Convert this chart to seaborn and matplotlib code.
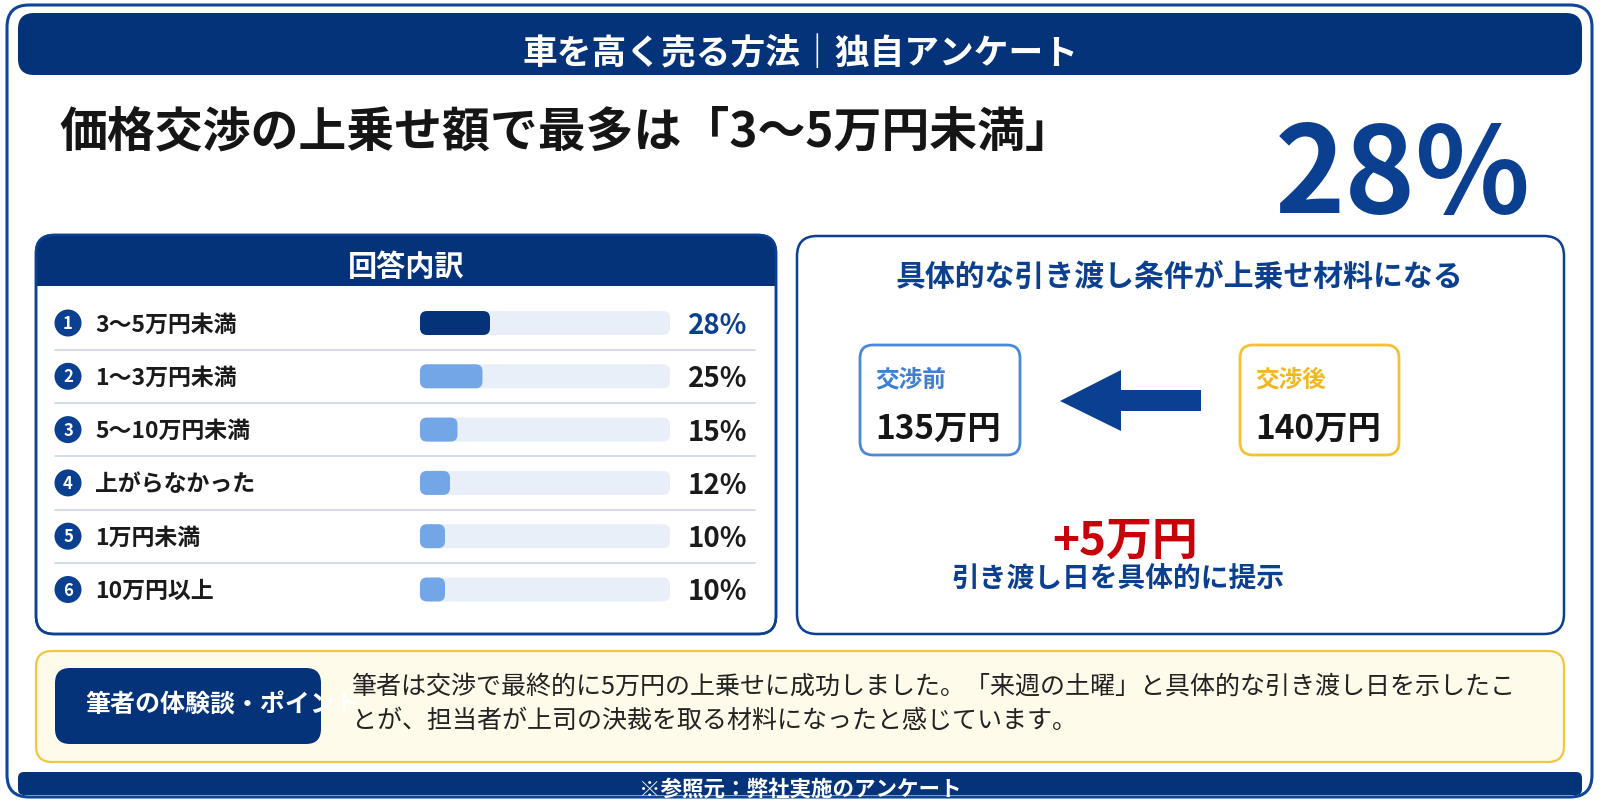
import matplotlib
matplotlib.use("Agg")
import matplotlib.pyplot as plt
from matplotlib.patches import FancyBboxPatch, Rectangle, Circle, Polygon
import seaborn as sns
import pandas as pd

# data
categories = ["3〜5万円未満", "1〜3万円未満", "5〜10万円未満", "上がらなかった", "1万円未満", "10万円以上"]
shares = [28, 25, 15, 12, 10, 10]
price_before = 135
price_after = 140

header_text = "車を高く売る方法｜独自アンケート"
title_text = "価格交渉の上乗せ額で最多は「3〜5万円未満」"
panel_title = "回答内訳"
right_title = "具体的な引き渡し条件が上乗せ材料になる"
condition_text = "引き渡し日を具体的に提示"
badge_text = "筆者の体験談・ポイント"
story_lines = ["筆者は交渉で最終的に5万円の上乗せに成功しました。「来週の土曜」と具体的な引き渡し日を示したこ",
               "とが、担当者が上司の決裁を取る材料になったと感じています。"]
source_text = "※参照元：弊社実施のアンケート"

NAVY = "#04337A"
BLUE = "#0B3F90"
FRAME = "#0D4699"
LIGHT = "#72A6E6"
TRACK = "#E9EFF9"

sns.set_theme(style="white")
plt.rcParams['font.family'] = ['Noto Sans CJK JP', 'DejaVu Sans']

fig = plt.figure(figsize=(16, 8), dpi=100)
ax = fig.add_axes([0, 0, 1, 1])
ax.set_xlim(0, 1600)
ax.set_ylim(800, 0)
ax.axis("off")


def rbox(x0, y0, x1, y1, r, **kw):
    p = FancyBboxPatch((x0, y0), x1 - x0, y1 - y0,
                       boxstyle=f"round,pad=0,rounding_size={r}", **kw)
    ax.add_patch(p)
    return p


# outer frame, header and footer
rbox(7, 5, 1592, 797, 22, fc="white", ec=FRAME, lw=2.2)
rbox(18, 13, 1582, 75, 16, fc=NAVY, ec="none")
ax.text(800, 53, header_text, color="white", fontsize=25, fontweight="bold",
        ha="center", va="center")
rbox(18, 772, 1582, 795, 6, fc=NAVY, ec="none")
ax.text(800, 789, source_text, color="white", fontsize=15.5, fontweight="bold",
        ha="center", va="center")

# headline
ax.text(59, 132, title_text, color="#151515", fontsize=34.5, fontweight="bold",
        ha="left", va="center")
ax.text(1403, 213, f"{shares[0]}%", color=BLUE, fontsize=86, fontweight="bold",
        ha="center", va="baseline")

# left panel
lp = rbox(36, 235, 776, 634, 18, fc="white", ec=BLUE, lw=1.8, zorder=1)
hdr = Rectangle((36, 235), 740, 51, fc=NAVY, ec="none", zorder=2)
ax.add_patch(hdr)
hdr.set_clip_path(lp)
rbox(36, 235, 776, 634, 18, fc="none", ec=BLUE, lw=1.8, zorder=3)
ax.text(406, 267, panel_title, color="white", fontsize=21, fontweight="bold",
        ha="center", va="center", zorder=4)

row0, step = 323, 53.3
for i, (cat, val) in enumerate(zip(categories, shares)):
    yc = row0 + i * step
    ax.add_patch(Circle((68, yc), 13.5, fc=BLUE, ec="none", zorder=3))
    ax.text(68, yc + 1, str(i + 1), color="white", fontsize=12, fontweight="bold",
            ha="center", va="center", zorder=4)
    ax.text(95, yc + 2, cat, color="#1A1A1A", fontsize=16.5, fontweight="bold",
            ha="left", va="center", zorder=4)
    ax.text(747, yc + 3, f"{val}%", color=BLUE if i == 0 else "#1A1A1A",
            fontsize=20, fontweight="bold", ha="right", va="center", zorder=4)
    if i < len(categories) - 1:
        ax.plot([55, 755], [yc + step / 2, yc + step / 2], color="#C9D5E6",
                lw=1.2, zorder=3)

# bars in their own axes
y_top = row0 - step / 2
y_bot = row0 + (len(categories) - 1) * step + step / 2
ax_bar = fig.add_axes([420 / 1600, 1 - y_bot / 800, 250 / 1600, (y_bot - y_top) / 800])
df = pd.DataFrame({"category": categories, "share": shares, "full": [100] * len(shares)})
sns.barplot(data=df, x="full", y="category", orient="h", color=TRACK,
            width=0.45, saturation=1, ax=ax_bar)
sns.barplot(data=df, x="share", y="category", hue="category", orient="h",
            palette=[NAVY if i == 0 else LIGHT for i in range(len(categories))],
            width=0.45, saturation=1, legend=False, ax=ax_bar)
ax_bar.set_xlim(0, 100)
ax_bar.set_ylim(len(categories) - 0.5, -0.5)
ax_bar.axis("off")
ax_bar.patch.set_alpha(0)

# round the bar ends
px_x = 250 / 100
px_y = (y_bot - y_top) / len(categories)
for p in list(ax_bar.patches):
    x, y = p.get_xy()
    w, h = p.get_width(), p.get_height()
    fc = p.get_facecolor()
    p.remove()
    ax_bar.add_patch(FancyBboxPatch((x, y), w, h,
                                    boxstyle="round,pad=0,rounding_size=2.8",
                                    mutation_aspect=px_x / px_y, fc=fc, ec="none"))

# right panel
rbox(797, 236, 1564, 634, 20, fc="white", ec=BLUE, lw=1.8)
ax.text(1180, 278, right_title, color=BLUE, fontsize=21.5, fontweight="bold",
        ha="center", va="center")
rbox(860, 345, 1020, 455, 13, fc="white", ec="#4A88D8", lw=2)
ax.text(875, 379, "交渉前", color="#3F7FD0", fontsize=17, fontweight="bold",
        ha="left", va="center")
ax.text(875, 429, f"{price_before}万円", color="#151515", fontsize=24,
        fontweight="bold", ha="left", va="center")
rbox(1240, 345, 1399, 455, 13, fc="white", ec="#F2C233", lw=2)
ax.text(1255, 379, "交渉後", color="#F0B820", fontsize=17, fontweight="bold",
        ha="left", va="center")
ax.text(1255, 429, f"{price_after}万円", color="#151515", fontsize=24,
        fontweight="bold", ha="left", va="center")
ax.add_patch(Polygon([(1060, 401), (1121, 370), (1121, 390), (1201, 390),
                      (1201, 411), (1121, 411), (1121, 431)],
                     closed=True, fc=BLUE, ec="none"))
ax.text(1125, 542, f"+{price_after - price_before}万円", color="#C8000A",
        fontsize=33, fontweight="bold", ha="center", va="center")
ax.text(1118, 580, condition_text, color=BLUE, fontsize=20, fontweight="bold",
        ha="center", va="center")

# experience box
rbox(36, 651, 1564, 762, 16, fc="#FEFBEB", ec="#F2C640", lw=1.6)
badge = rbox(55, 668, 321, 744, 15, fc=NAVY, ec="none")
t = ax.text(85, 705, badge_text, color="white", fontsize=18, fontweight="bold",
            ha="left", va="center")
t.set_clip_path(badge)
for k, line in enumerate(story_lines):
    ax.text(352, 687 + k * 34, line, color="#222222", fontsize=18,
            ha="left", va="center")

fig.savefig("out.png", dpi=100)
